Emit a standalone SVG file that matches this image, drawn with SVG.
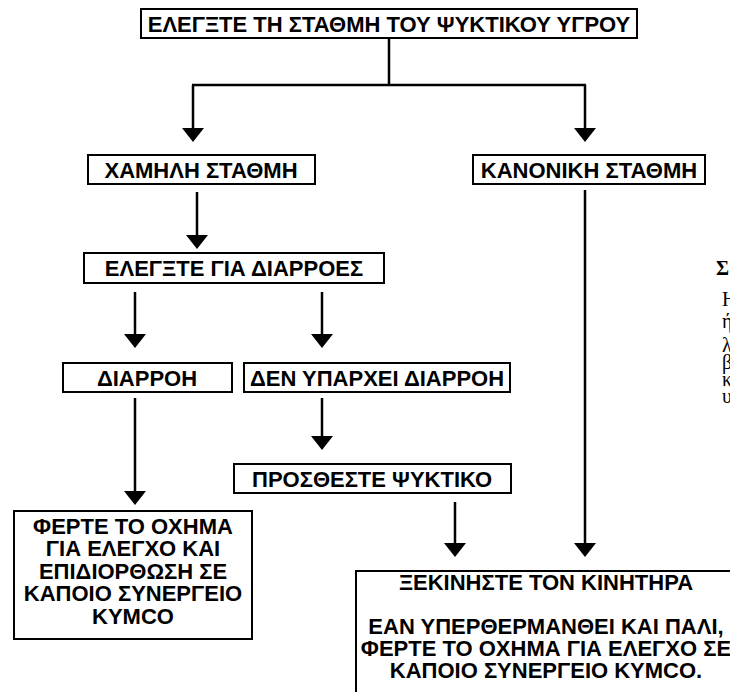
<svg xmlns="http://www.w3.org/2000/svg" width="730" height="692" viewBox="0 0 730 692">
<style>
.box{fill:#fff;stroke:#000;stroke-width:2}
.t{font-family:"Liberation Sans",Arial,sans-serif;font-weight:bold;font-size:22px;fill:#000;text-anchor:middle}
.c{fill:none;stroke:#000;stroke-width:2.5}
.s{font-family:"Liberation Serif","Times New Roman",serif;font-size:20px;fill:#000}
</style>
<defs>
<marker id="ah" viewBox="0 0 14 22" markerWidth="14" markerHeight="22" refX="8" refY="11" orient="auto" markerUnits="userSpaceOnUse">
<path d="M0,0 L14,11 L0,22 Z" fill="#000"/>
</marker>
</defs>
<rect width="730" height="692" fill="#fff"/>
<g id="connectors">
<path class="c" d="M389,38 V85 M192,85 H586"/>
<path class="c" d="M193,85 V136" marker-end="url(#ah)"/>
<path class="c" d="M585,85 V136" marker-end="url(#ah)"/>
<path class="c" d="M197,192 V243" marker-end="url(#ah)"/>
<path class="c" d="M135,292 V342" marker-end="url(#ah)"/>
<path class="c" d="M322,292 V342" marker-end="url(#ah)"/>
<path class="c" d="M322,398 V444" marker-end="url(#ah)"/>
<path class="c" d="M135,398 V499" marker-end="url(#ah)"/>
<path class="c" d="M455,502 V551" marker-end="url(#ah)"/>
<path class="c" d="M585,190 V551" marker-end="url(#ah)"/>
</g>
<g id="n-top">
<rect class="box" x="141" y="9" width="496" height="29"/>
<text class="t" x="389" y="31.5">ΕΛΕΓΞΤΕ ΤΗ ΣΤΑΘΜΗ ΤΟΥ ΨΥΚΤΙΚΟΥ ΥΓΡΟΥ</text>
</g>
<g id="n-low">
<rect class="box" x="88" y="155" width="227" height="29"/>
<text class="t" x="201" y="177.5">ΧΑΜΗΛΗ ΣΤΑΘΜΗ</text>
</g>
<g id="n-normal">
<rect class="box" x="473" y="155" width="232" height="29"/>
<text class="t" x="589" y="177.5">ΚΑΝΟΝΙΚΗ ΣΤΑΘΜΗ</text>
</g>
<g id="n-check">
<rect class="box" x="84" y="253" width="300" height="30"/>
<text class="t" x="234" y="276">ΕΛΕΓΞΤΕ ΓΙΑ ΔΙΑΡΡΟΕΣ</text>
</g>
<g id="n-leak">
<rect class="box" x="63" y="363" width="169" height="29"/>
<text class="t" x="147" y="385.5">ΔΙΑΡΡΟΗ</text>
</g>
<g id="n-noleak">
<rect class="box" x="244" y="363" width="266" height="29"/>
<text class="t" x="377" y="385.5">ΔΕΝ ΥΠΑΡΧΕΙ ΔΙΑΡΡΟΗ</text>
</g>
<g id="n-add">
<rect class="box" x="234" y="464" width="277" height="29"/>
<text class="t" x="372" y="486.5">ΠΡΟΣΘΕΣΤΕ ΨΥΚΤΙΚΟ</text>
</g>
<g id="n-service">
<rect class="box" x="14" y="511" width="238" height="128"/>
<text class="t" x="133" y="534">ΦΕΡΤΕ ΤΟ ΟΧΗΜΑ</text>
<text class="t" x="133" y="556">ΓΙΑ ΕΛΕΓΧΟ ΚΑΙ</text>
<text class="t" x="133" y="579">ΕΠΙΔΙΟΡΘΩΣΗ ΣΕ</text>
<text class="t" x="133" y="601">ΚΑΠΟΙΟ ΣΥΝΕΡΓΕΙΟ</text>
<text class="t" x="133" y="624">ΚΥΜCO</text>
</g>
<g id="n-start">
<rect class="box" x="356" y="571" width="400" height="140"/>
<text class="t" x="546" y="590">ΞΕΚΙΝΗΣΤΕ ΤΟΝ ΚΙΝΗΤΗΡΑ</text>
<text class="t" x="546" y="634">ΕΑΝ ΥΠΕΡΘΕΡΜΑΝΘΕΙ ΚΑΙ ΠΑΛΙ,</text>
<text class="t" x="546" y="656">ΦΕΡΤΕ ΤΟ ΟΧΗΜΑ ΓΙΑ ΕΛΕΓΧΟ ΣΕ</text>
<text class="t" x="546" y="678">ΚΑΠΟΙΟ ΣΥΝΕΡΓΕΙΟ ΚΥΜCO.</text>
</g>
<g id="side-text">
<text class="s" x="716" y="275" font-weight="bold">Σ</text>
<text class="s" x="722" y="306">Η</text>
<text class="s" x="722" y="328">ή</text>
<text class="s" x="722" y="352">λ</text>
<text class="s" x="722" y="369">β</text>
<text class="s" x="722" y="386">κ</text>
<text class="s" x="722" y="403">υ</text>
</g>
</svg>
